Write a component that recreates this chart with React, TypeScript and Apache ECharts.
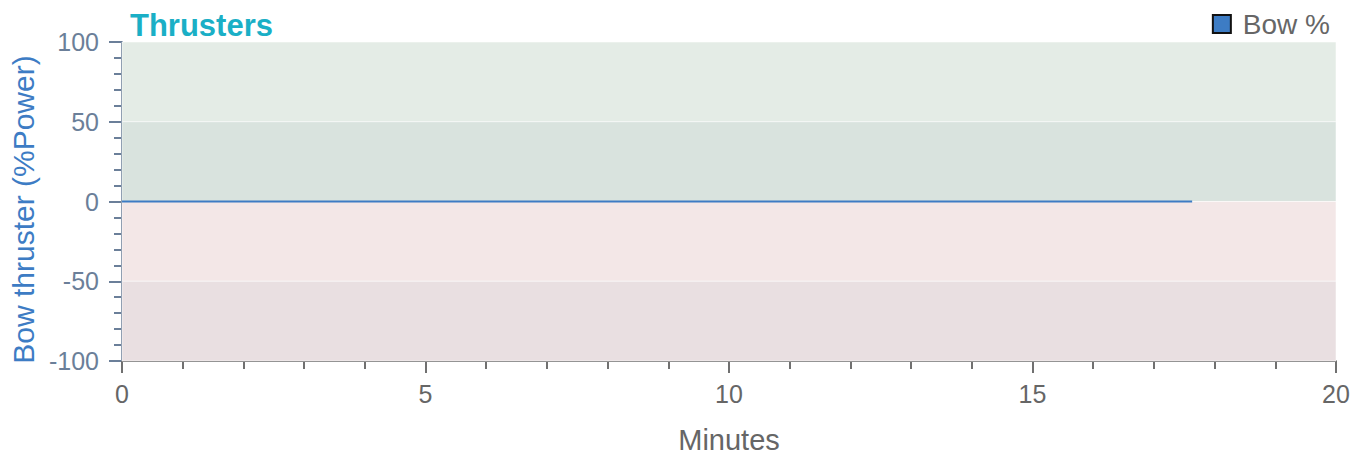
import React, { useEffect, useRef } from "react";
import * as echarts from "echarts";

const minutes = [0, 1, 2, 3, 4, 5, 6, 7, 8, 9, 10, 11, 12, 13, 14, 15, 16, 17, 17.63];
const bowPercent = [0, 0, 0, 0, 0, 0, 0, 0, 0, 0, 0, 0, 0, 0, 0, 0, 0, 0, 0];
const bandLimits = [100, 50, 0, -50, -100];
const bandColors = ["#e4ece6", "#d9e3de", "#f3e7e7", "#e9dfe1"];

const FONT = "Liberation Sans, Arial, sans-serif";

export default function App() {
  const ref = useRef<HTMLDivElement>(null);
  useEffect(() => {
    if (!ref.current) return;
    const chart = echarts.init(ref.current, null, { renderer: "svg" });
    const bands = bandColors.map((c, i) => [
      { yAxis: bandLimits[i], itemStyle: { color: c, borderColor: "rgba(255,255,255,0.5)", borderWidth: 1 } },
      { yAxis: bandLimits[i + 1] },
    ]);
    chart.setOption({
      animation: false,
      textStyle: { fontFamily: FONT },
      title: {
        text: "Thrusters",
        left: 125,
        top: 5,
        textStyle: { color: "#1aafc6", fontSize: 31, fontWeight: "bold", fontFamily: FONT },
      },
      legend: {
        right: 25,
        top: 5,
        icon: "rect",
        itemWidth: 18,
        itemHeight: 18,
        itemGap: 10,
        itemStyle: { borderColor: "#111", borderWidth: 2 },
        textStyle: { color: "#666", fontSize: 28, fontFamily: FONT, padding: [0, 0, 0, 7] },
        data: ["Bow %"],
      },
      grid: { left: 122, right: 24, top: 42, bottom: 93, containLabel: false, outerBoundsMode: "none" },
      xAxis: {
        type: "value",
        min: 0,
        max: 20,
        interval: 5,
        name: "Minutes",
        nameLocation: "middle",
        nameGap: 64,
        nameTextStyle: { color: "#666", fontSize: 29, fontFamily: FONT },
        axisLine: { show: true, onZero: false, lineStyle: { color: "#707070", width: 2 } },
        axisTick: { show: true, length: 12, lineStyle: { color: "#707070", width: 2 } },
        minorTick: { show: true, splitNumber: 5, length: 8, lineStyle: { color: "#707070", width: 2 } },
        axisLabel: { color: "#666", fontSize: 25, margin: 20, fontFamily: FONT },
        splitLine: { show: false },
      },
      yAxis: {
        type: "value",
        min: -100,
        max: 100,
        interval: 50,
        name: "Bow thruster (%Power)",
        nameLocation: "middle",
        nameGap: 82,
        nameTextStyle: { color: "#3d7cc4", fontSize: 30, fontFamily: FONT, padding: [0, 16, 0, 0] },
        axisLine: { show: true, lineStyle: { color: "#6b7f99", width: 2 } },
        axisTick: { show: true, length: 13, lineStyle: { color: "#6b7f99", width: 2 } },
        minorTick: { show: true, splitNumber: 5, length: 8, lineStyle: { color: "#6b7f99", width: 2 } },
        axisLabel: { color: "#6b7f99", fontSize: 25, margin: 23, fontFamily: FONT },
        splitLine: { show: false },
      },
      series: [
        {
          name: "Bow %",
          type: "line",
          data: minutes.map((m, i) => [m, bowPercent[i]]),
          showSymbol: false,
          itemStyle: { color: "#3d7cc4" },
          lineStyle: { color: "#3d7cc4", width: 2 },
          markArea: { silent: true, data: bands },
          z: 3,
        },
      ],
    });
    return () => chart.dispose();
  }, []);
  return <div ref={ref} style={{ position: "absolute", left: 0, top: 0, width: 1360, height: 454 }} />;
}
